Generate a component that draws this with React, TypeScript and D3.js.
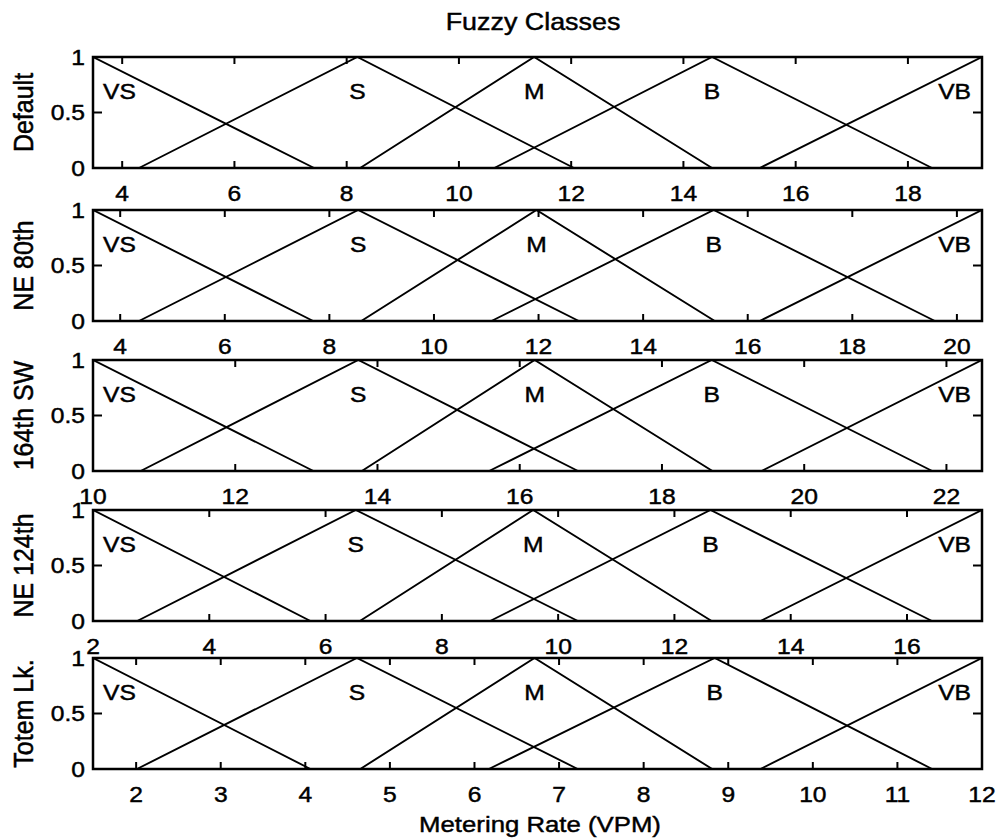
import * as d3 from 'd3';

const panelNames = ['Default', 'NE 80th', '164th SW', 'NE 124th', 'Totem Lk.'];
const classNames = ['VS', 'S', 'M', 'B', 'VB'];

const xRanges = [
	[3.48, 19.32],
	[3.48, 20.48],
	[10.0, 22.5],
	[2.0, 17.29],
	[1.49, 12.0],
];

const xTicks = [
	[4, 6, 8, 10, 12, 14, 16, 18],
	[4, 6, 8, 10, 12, 14, 16, 18, 20],
	[10, 12, 14, 16, 18, 20, 22],
	[2, 4, 6, 8, 10, 12, 14, 16],
	[2, 3, 4, 5, 6, 7, 8, 9, 10, 11, 12],
];

const yTicks = [0, 0.5, 1];
const yTickLabels = ['0', '0.5', '1'];

// [start, peak, end] of each class, VS .. VB
const defaultMF = [[3.48, 3.48, 7.42], [4.30, 8.19, 12.05], [8.24, 11.34, 14.51], [10.63, 14.51, 18.43], [15.36, 19.32, 19.32]];
const ne80MF = [[3.48, 3.48, 7.69], [4.36, 8.55, 12.77], [8.61, 11.96, 15.37], [11.10, 15.35, 19.58], [16.23, 20.48, 20.48]];
const sw164MF = [[10.0, 10.0, 13.1], [10.67, 13.73, 16.82], [13.78, 16.21, 18.71], [15.57, 18.70, 21.8], [19.4, 22.5, 22.5]];
const ne124MF = [[2.0, 2.0, 5.74], [2.76, 6.52, 10.34], [6.59, 9.57, 12.64], [8.83, 12.62, 16.43], [13.48, 17.29, 17.29]];
const totemMF = [[1.49, 1.49, 4.06], [2.01, 4.61, 7.22], [4.65, 6.71, 8.81], [6.17, 8.84, 11.41], [9.38, 12.0, 12.0]];

const classParams = [defaultMF, ne80MF, sw164MF, ne124MF, totemMF];

// layout
const W = 1001, H = 839;
const left = 93, right = 982;
const panelTop = [57, 210, 360, 510, 658];
const panelH = 111;
const SX = 1.12; // scanned figure is a little stretched sideways
const font = '"Liberation Sans", Arial, Helvetica, sans-serif';

function Txt({ x, y, size, anchor = 'middle', rotate = false, dy = 0, children }) {
	const t = `translate(${x},${y}) scale(${SX},1)` + (rotate ? ' rotate(-90)' : '');
	return (
		<text transform={t} fontSize={size} textAnchor={anchor} dy={dy} fontFamily={font}
			fill='#000' stroke='#000' strokeWidth={0.45}>
			{children}
		</text>
	);
}

function Panel({ i }) {
	const top = panelTop[i];
	const bottom = top + panelH;
	const x = d3.scaleLinear().domain(xRanges[i]).range([left, right]);
	const y = d3.scaleLinear().domain([0, 1]).range([bottom, top]);
	const line = d3.line().x(d => x(d[0])).y(d => y(d[1]));
	const clipId = `clip${i}`;

	return (
		<g>
			<clipPath id={clipId}>
				<rect x={left} y={top - 1} width={right - left} height={panelH + 2} />
			</clipPath>
			<g clipPath={`url(#${clipId})`}>
				{classParams[i].map((p, k) => (
					<path key={k} d={line([[p[0], 0], [p[1], 1], [p[2], 0]])}
						fill='none' stroke='#000' strokeWidth={1.9} />
				))}
			</g>
			{classParams[i].map((p, k) => {
				const isFirst = k === 0, isLast = k === classNames.length - 1;
				const lx = isFirst ? left + 10 : isLast ? right - 11 : x(p[1]);
				return (
					<Txt key={k} x={lx} y={top + 42} size={22}
						anchor={isFirst ? 'start' : isLast ? 'end' : 'middle'}>
						{classNames[k]}
					</Txt>
				);
			})}
			<rect x={left} y={top} width={right - left} height={panelH} fill='none' stroke='#000' strokeWidth={2.5} />
			{xTicks[i].map(t => (
				<g key={t}>
					<line x1={x(t)} x2={x(t)} y1={bottom} y2={bottom - 7} stroke='#000' strokeWidth={2} />
					<line x1={x(t)} x2={x(t)} y1={top} y2={top + 7} stroke='#000' strokeWidth={2} />
					<Txt x={x(t)} y={bottom + 33} size={22}>{String(t)}</Txt>
				</g>
			))}
			{yTicks.map((t, k) => (
				<g key={t}>
					<line x1={left} x2={left + 9} y1={y(t)} y2={y(t)} stroke='#000' strokeWidth={2} />
					<line x1={right} x2={right - 9} y1={y(t)} y2={y(t)} stroke='#000' strokeWidth={2} />
					<Txt x={left - 8} y={y(t)} dy='0.36em' size={22} anchor='end'>{yTickLabels[k]}</Txt>
				</g>
			))}
			<Txt x={33} y={(top + bottom) / 2} size={25} rotate>{panelNames[i]}</Txt>
		</g>
	);
}

export default function App() {
	return (
		<svg width={W} height={H} style={{ position: 'absolute', left: 0, top: 0, background: '#fff' }}>
			<rect width={W} height={H} fill='#fff' />
			<Txt x={533} y={30} size={24}>Fuzzy Classes</Txt>
			{panelNames.map((_, i) => <Panel key={i} i={i} />)}
			<Txt x={540} y={832} size={23}>Metering Rate (VPM)</Txt>
		</svg>
	);
}
